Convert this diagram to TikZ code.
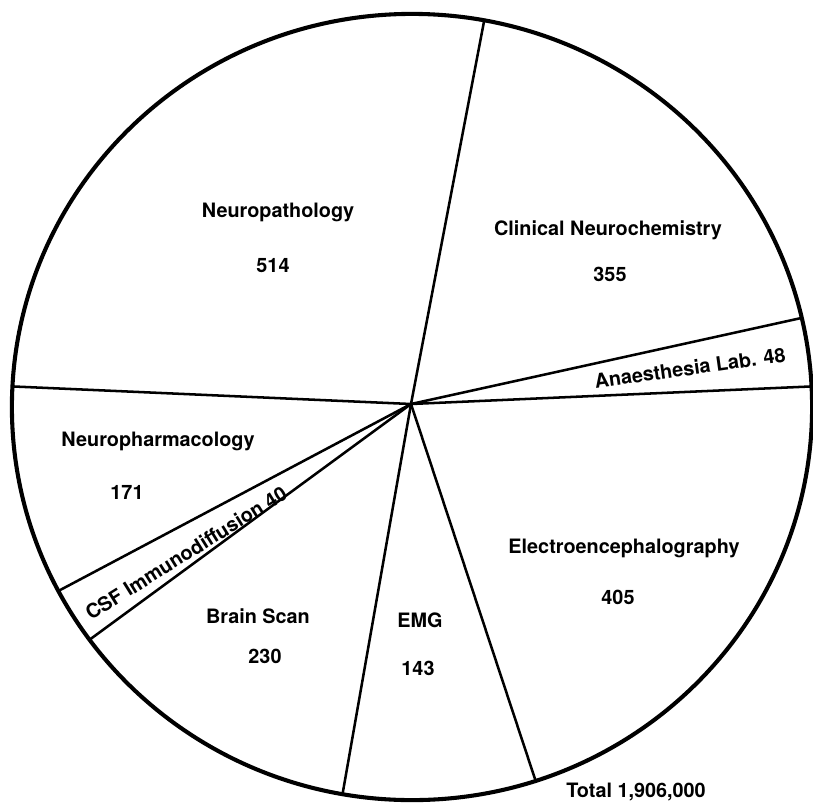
\documentclass[tikz,border=0pt]{standalone}
\usepackage{fontspec}
\setmainfont{TeX Gyre Heros}
\usetikzlibrary{calc}
\begin{document}
\begin{tikzpicture}[x=0.025cm,y=-0.025cm,
  rim/.style={line width=2.9pt},
  spoke/.style={line width=1.8pt},
  lbl/.style={font=\fontsize{14.1}{16}\selectfont\bfseries, inner sep=0pt}]
\useasboundingbox (0,0) rectangle (813,803);
\coordinate (ctr) at (412,407);
\coordinate (hub) at (411,404);
\draw[rim] (ctr) ellipse [x radius=10cm, y radius=9.825cm];
\foreach \n/\a in {a/79.6,b/13.1,c/3.0,d/-72.0,e/-100.0,f/-143.7,g/-152.1,h/177.0}
  \coordinate (\n) at ($(ctr)+(\a:10cm and 9.825cm)$);
\foreach \n in {a,b,c,d,e,f,g,h} \draw[spoke] (hub) -- (\n);
% labels
\node[lbl] (np) at (278,212) {Neuropathology};
\node[lbl] (npv) at (273,266) {514};
\node[lbl] (cn) at (608,230) {Clinical Neurochemistry};
\node[lbl] (cnv) at (610,274) {355};
\node[lbl, rotate=8] (an) at (690,368) {Anaesthesia Lab. 48};
\node[lbl] (eeg) at (624,548) {Electroencephalography};
\node[lbl] (eegv) at (618,597) {405};
\node[lbl] (emg) at (420,620) {EMG};
\node[lbl] (emgv) at (418,668) {143};
\node[lbl] (bs) at (258,616) {Brain Scan};
\node[lbl] (bsv) at (265,656) {230};
\node[lbl, rotate=32] (csf) at (186,553) {CSF Immunodiffusion 40};
\node[lbl] (nph) at (158,441) {Neuropharmacology};
\node[lbl] (nphv) at (127,492) {171};
\node[lbl] (tot) at (636,792) {Total 1,906,000};
\end{tikzpicture}
\end{document}
